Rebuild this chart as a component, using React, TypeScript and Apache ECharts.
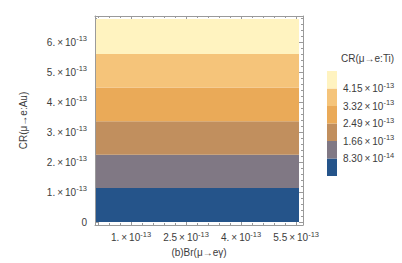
import React, { useEffect, useRef } from "react";
import * as echarts from "echarts";

// CR(μ→e:Au) band boundaries, in units of 1e-13
const bandEdges = [0, 1.13, 2.24, 3.36, 4.48, 5.6, 6.77];
// colours of the bands, bottom to top
const bandColors = ["#25548A", "#807884", "#C18F5E", "#EAAA58", "#F5C47A", "#FFF3C0"];
// extent of Br(μ→eγ) sampled, in units of 1e-13
const brExtent = [0.046, 5.578];

const xTicks = [1, 2.5, 4, 5.5];
const xTickMantissa = ["1.", "2.5", "4.", "5.5"];
const xMinorTicks = [0.1, 0.4, 0.7, 1.3, 1.6, 1.9, 2.2, 2.8, 3.1, 3.4, 3.7, 4.3, 4.6, 4.9, 5.2];
const yTicks = [0, 1, 2, 3, 4, 5, 6];
const yTickMantissa = ["0", "1.", "2.", "3.", "4.", "5.", "6."];
const yMinorTicks = [0.2, 0.4, 0.6, 0.8, 1.2, 1.4, 1.6, 1.8, 2.2, 2.4, 2.6, 2.8, 3.2, 3.4, 3.6, 3.8, 4.2, 4.4, 4.6, 4.8, 5.2, 5.4, 5.6, 5.8, 6.2, 6.4, 6.6, 6.8];

// colour bar levels of CR(μ→e:Ti)
const legendMantissa = ["8.30", "1.66", "2.49", "3.32", "4.15"];
const legendExponent = ["-14", "-13", "-13", "-13", "-13"];

const TXT = "#3c3c3c";
const FRAME = "#9a9a9a";
const FONT = "Liberation Sans";

const rich = {
  b: { fontSize: 10, fontFamily: FONT, color: TXT, lineHeight: 15 },
  s: { fontSize: 7.5, fontFamily: FONT, color: TXT, lineHeight: 8, verticalAlign: "top" as const },
};

function sci(m: string, e: string) {
  if (m === "0") return "{b|0}";
  return `{b|${m}\u2009×\u200910}{s|${e}}`;
}

export default function App() {
  const ref = useRef<HTMLDivElement>(null);
  useEffect(() => {
    if (!ref.current) return;
    const chart = echarts.init(ref.current, null, { renderer: "svg" });
    const xMin = 0.019, xMax = 5.687, yMin = -0.1, yMax = 6.867;
    const frameX = (position: "bottom" | "top", major: boolean, labels: boolean) => ({
      type: "value" as const,
      gridIndex: 0,
      position,
      min: xMin,
      max: xMax,
      axisLine: { show: major, onZero: false, lineStyle: { color: FRAME, width: 1 } },
      splitLine: { show: false },
      axisTick: {
        show: true,
        inside: true,
        length: major ? 4 : 2,
        customValues: major ? xTicks : xMinorTicks,
        lineStyle: { color: FRAME },
      },
      axisLabel: labels
        ? {
            show: true,
            customValues: xTicks,
            margin: 5,
            formatter: (v: number) => sci(xTickMantissa[xTicks.indexOf(Math.round(v * 10) / 10)], "-13"),
            rich,
          }
        : { show: false },
      ...(labels
        ? {
            name: "(b)Br(μ→eγ)",
            nameLocation: "middle" as const,
            nameGap: 21,
            nameTextStyle: { fontSize: 10, fontFamily: FONT, color: TXT },
          }
        : {}),
    });
    const frameY = (position: "left" | "right", major: boolean, labels: boolean) => ({
      type: "value" as const,
      gridIndex: 0,
      position,
      min: yMin,
      max: yMax,
      axisLine: { show: major, onZero: false, lineStyle: { color: FRAME, width: 1 } },
      splitLine: { show: false },
      axisTick: {
        show: true,
        inside: true,
        length: major ? 4 : 2,
        customValues: major ? yTicks : yMinorTicks,
        lineStyle: { color: FRAME },
      },
      axisLabel: labels
        ? {
            show: true,
            customValues: yTicks,
            margin: 8,
            formatter: (v: number) => sci(yTickMantissa[yTicks.indexOf(Math.round(v))], "-13"),
            rich,
          }
        : { show: false },
      ...(labels
        ? {
            name: "CR(μ→e:Au)",
            nameLocation: "middle" as const,
            nameGap: 67,
            nameRotate: 90,
            nameTextStyle: { fontSize: 10, fontFamily: FONT, color: TXT },
          }
        : {}),
    });

    const bandData = bandColors.map((c, i) => [bandEdges[i], bandEdges[i + 1], i]);
    const legendData = bandColors.map((c, i) => [i, i + 1, i]);

    chart.setOption({
      animation: false,
      grid: [
        { left: 95, top: 16, width: 208, height: 209 },
        { left: 327, top: 71, width: 10, height: 105 },
      ],
      xAxis: [
        frameX("bottom", true, true),
        frameX("bottom", false, false),
        frameX("top", true, false),
        frameX("top", false, false),
        { type: "value", gridIndex: 1, min: 0, max: 1, show: false },
      ],
      yAxis: [
        frameY("left", true, true),
        frameY("left", false, false),
        frameY("right", true, false),
        frameY("right", false, false),
        {
          type: "value",
          gridIndex: 1,
          position: "right",
          min: 0,
          max: 6,
          axisLine: { show: false },
          axisTick: { show: false },
          splitLine: { show: false },
          axisLabel: {
            show: true,
            customValues: [1, 2, 3, 4, 5],
            margin: 6,
            formatter: (v: number) => {
              const i = Math.round(v) - 1;
              return sci(legendMantissa[i], legendExponent[i]);
            },
            rich,
          },
        },
      ],
      graphic: [
        {
          type: "text",
          left: 341,
          top: 53,
          style: { text: "CR(μ→e:Ti)", fontSize: 10, fontFamily: FONT, fill: TXT },
        },
      ],
      series: [
        {
          type: "custom",
          xAxisIndex: 0,
          yAxisIndex: 0,
          data: bandData,
          renderItem: (params: any, api: any) => {
            const lo = api.value(0), hi = api.value(1), idx = api.value(2);
            const p1 = api.coord([brExtent[0], hi]);
            const p2 = api.coord([brExtent[1], lo]);
            return {
              type: "rect",
              shape: { x: p1[0], y: p1[1], width: p2[0] - p1[0], height: p2[1] - p1[1] },
              style: { fill: bandColors[idx] },
            };
          },
        },
        {
          type: "custom",
          xAxisIndex: 4,
          yAxisIndex: 4,
          data: legendData,
          renderItem: (params: any, api: any) => {
            const lo = api.value(0), hi = api.value(1), idx = api.value(2);
            const p1 = api.coord([0, hi]);
            const p2 = api.coord([1, lo]);
            return {
              type: "rect",
              shape: { x: p1[0], y: p1[1], width: p2[0] - p1[0], height: p2[1] - p1[1] },
              style: { fill: bandColors[idx] },
            };
          },
        },
      ],
    });
    return () => chart.dispose();
  }, []);
  return (
    <div
      ref={ref}
      style={{ position: "absolute", left: 0, top: 0, width: 402, height: 263 }}
    />
  );
}
